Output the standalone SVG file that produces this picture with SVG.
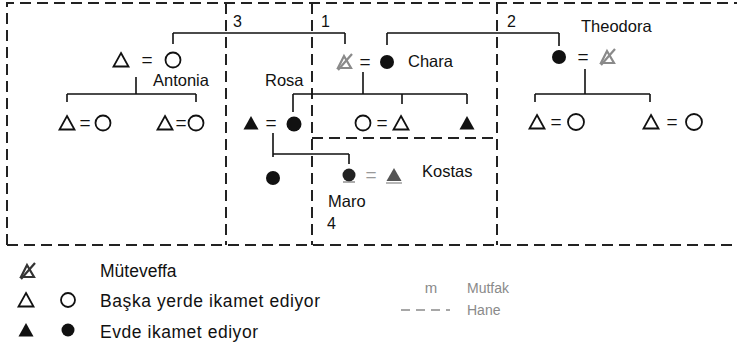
<svg xmlns="http://www.w3.org/2000/svg" width="737" height="352" viewBox="0 0 737 352">
<style>
text{font-family:"Liberation Sans",Arial,sans-serif;fill:#111}
.lbl{font-size:16.5px}
.num{font-size:16px}
.eq{font-size:19px}
.leg{font-size:17.5px}
.faint{fill:#8a8a8a;font-size:14px}
.box{fill:none;stroke:#222;stroke-width:2;stroke-dasharray:11 6}
.ln{fill:none;stroke:#111;stroke-width:1.6}
.open{fill:none;stroke:#111;stroke-width:1.8}
.solid{fill:#111;stroke:none}
</style>
<defs>
<path id="tri" d="M0,-7 L7.5,6.5 L-7.5,6.5 Z"/>
<g id="dec"><path d="M0,-6 L7,6 L-6,6 Z" fill="none" stroke-width="2.2"/><path d="M-6,8 L8,-8" fill="none" stroke-width="2.2"/></g>
</defs>

<g id="households">
<path class="box" d="M7,245 V3 H737"/>
<path class="box" d="M7,245 H737"/>
<path class="box" d="M226,3 V245"/>
<path class="box" d="M312,3 V245"/>
<path class="box" d="M497,3 V245"/>
<path class="box" d="M312,138 H497"/>
<text class="num" x="233" y="27">3</text>
<text class="num" x="321" y="27">1</text>
<text class="num" x="507" y="27">2</text>
<text class="num" x="327" y="229">4</text>
</g>

<g id="connectors">
<path class="ln" d="M173,33 H345 M173,33 V44 M345,33 V44"/>
<path class="ln" d="M387,33 H559 M387,33 V45 M559,33 V46"/>
<path class="ln" d="M136,77 V94 M67,94 H196 M67,94 V102 M196,94 V102"/>
<path class="ln" d="M363,72 V94 M293,94 H467 M293,94 V112 M402,94 V104 M467,94 V104"/>
<path class="ln" d="M585,69 V94 M535,94 H650 M535,94 V102 M650,94 V102"/>
<path class="ln" d="M273,133 V157 M273,154 H349 M349,154 V164"/>
</g>

<g id="couple-antonia">
<use href="#tri" x="121" y="60" class="open"/>
<text class="eq" x="147" y="66" text-anchor="middle">=</text>
<circle class="open" cx="173" cy="60" r="7.5"/>
<text class="lbl" x="153" y="86">Antonia</text>
</g>

<g id="couple-chara">
<use href="#dec" x="344" y="62" stroke="#8a8a8a"/>
<text class="eq" x="365" y="68" text-anchor="middle">=</text>
<circle class="solid" cx="387" cy="62" r="7"/>
<text class="lbl" x="408" y="67">Chara</text>
</g>

<g id="couple-theodora">
<circle class="solid" cx="559" cy="57" r="7"/>
<text class="eq" x="583" y="63" text-anchor="middle">=</text>
<use href="#dec" x="607" y="57" stroke="#8a8a8a"/>
<text class="lbl" x="581" y="32">Theodora</text>
</g>

<g id="child-3a">
<use href="#tri" x="67" y="123" class="open"/>
<text class="eq" x="85" y="129" text-anchor="middle">=</text>
<circle class="open" cx="103" cy="123" r="7.5"/>
</g>
<g id="child-3b">
<use href="#tri" x="165" y="123" class="open"/>
<text class="eq" x="181" y="129" text-anchor="middle">=</text>
<circle class="open" cx="196" cy="123" r="7.5"/>
</g>

<g id="couple-rosa">
<use href="#tri" x="251" y="123" class="solid"/>
<text class="eq" x="271" y="129" text-anchor="middle">=</text>
<circle class="solid" cx="294" cy="124" r="7.5"/>
<text class="lbl" x="265" y="86">Rosa</text>
</g>

<g id="child-1a">
<circle class="open" cx="363" cy="123" r="7.5"/>
<text class="eq" x="382" y="129" text-anchor="middle">=</text>
<use href="#tri" x="401" y="123" class="open"/>
</g>
<g id="child-1b">
<use href="#tri" x="467" y="123" class="solid"/>
</g>

<g id="child-2a">
<use href="#tri" x="537" y="122" class="open"/>
<text class="eq" x="556" y="128" text-anchor="middle">=</text>
<circle class="open" cx="576" cy="122" r="8"/>
</g>
<g id="child-2b">
<use href="#tri" x="651" y="122" class="open"/>
<text class="eq" x="672" y="128" text-anchor="middle">=</text>
<circle class="open" cx="694" cy="122" r="8"/>
</g>

<g id="grandchild-rosa">
<circle class="solid" cx="273" cy="178" r="7"/>
</g>

<g id="couple-maro">
<circle cx="349" cy="175" r="6.5" fill="#222"/>
<path d="M343,182 H355" stroke="#777" stroke-width="1.2"/>
<text class="eq" x="371" y="181" text-anchor="middle" style="fill:#999">=</text>
<path d="M394,168 L401.5,181 L386.5,181 Z" fill="#555"/>
<path d="M386,183 H402" stroke="#888" stroke-width="1.2"/>
<text class="lbl" x="422" y="177">Kostas</text>
<text class="lbl" x="328" y="207">Maro</text>
</g>

<g id="legend">
<use href="#dec" x="27" y="271" stroke="#333"/>
<text class="leg" x="100" y="277">Müteveffa</text>
<use href="#tri" x="26" y="300" class="open"/>
<circle class="open" cx="68" cy="300" r="7"/>
<text class="leg" x="100" y="307" textLength="220" lengthAdjust="spacing">Başka yerde ikamet ediyor</text>
<use href="#tri" x="26" y="330" class="solid"/>
<circle class="solid" cx="68" cy="330" r="6.5"/>
<text class="leg" x="100" y="338" textLength="158" lengthAdjust="spacing">Evde ikamet ediyor</text>
<text class="faint" x="431" y="293" text-anchor="middle" style="font-size:15px">m</text>
<text class="faint" x="467" y="293">Mutfak</text>
<path d="M401,310 H450" stroke="#8a8a8a" stroke-width="1.6" stroke-dasharray="9 6"/>
<text class="faint" x="467" y="315">Hane</text>
</g>
</svg>
